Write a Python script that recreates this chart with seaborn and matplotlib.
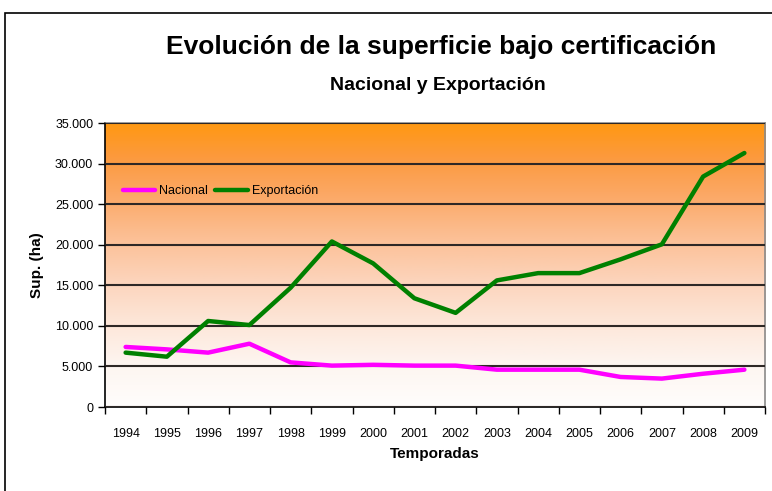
import numpy as np
import pandas as pd
import seaborn as sns
import matplotlib.pyplot as plt
from matplotlib.patches import Rectangle
from matplotlib.colors import LinearSegmentedColormap
from matplotlib.ticker import FuncFormatter, FixedLocator

# data
years = [str(y) for y in range(1994, 2010)]
nacional = [7400, 7100, 6700, 7800, 5500, 5100, 5200, 5100, 5100, 4600, 4600, 4600, 3700, 3500, 4100, 4600]
exportacion = [6700, 6200, 10600, 10100, 14700, 20400, 17700, 13400, 11600, 15600, 16500, 16500, 18200, 20050, 28400, 31300]

df = pd.DataFrame({"Temporada": years * 2,
                   "Sup": nacional + exportacion,
                   "Serie": ["Nacional"] * 16 + ["Exportación"] * 16})

sns.set_style("white")
plt.rcParams['font.family'] = ['Liberation Sans Narrow', 'Liberation Sans', 'DejaVu Sans']
plt.rcParams['text.color'] = 'black'
plt.rcParams['axes.labelcolor'] = 'black'
plt.rcParams['xtick.color'] = 'black'
plt.rcParams['ytick.color'] = 'black'

fig = plt.figure(figsize=(7.72, 4.91), dpi=100)
ax = fig.add_axes([105 / 772, 84 / 491, 660 / 772, 284 / 491])

# outer chart frame (cut by the image edge on right/bottom)
fig.patches.append(Rectangle((5 / 772, -0.1), 1.2, (491 - 13) / 491 + 0.1,
                             transform=fig.transFigure, fill=False,
                             edgecolor="black", linewidth=1.2, zorder=0))

# gradient background orange -> white
cmap = LinearSegmentedColormap.from_list("bg", [(0, "#fffdfc"), (0.15, "#fdf5f0"), (0.3, "#fde6d8"),
                                                (0.45, "#fcd3ba"), (0.6, "#fcbf94"), (0.75, "#fba865"),
                                                (0.88, "#fc9a3e"), (1, "#ff9812")])
grad = np.linspace(0, 1, 256).reshape(-1, 1)
ax.imshow(grad, cmap=cmap, aspect="auto", origin="lower",
          extent=[0, 1, 0, 1], transform=ax.transAxes, zorder=0)

sns.lineplot(data=df, x="Temporada", y="Sup", hue="Serie",
             palette={"Nacional": "#ff00ff", "Exportación": "#008000"},
             linewidth=3.2, ax=ax, zorder=3, sort=False)

ax.set_xlim(-0.5, 15.5)
ax.set_ylim(0, 35000)
ax.set_yticks(range(0, 35001, 5000))
ax.yaxis.set_major_formatter(FuncFormatter(lambda v, p: f"{int(v):,}".replace(",", ".")))
ax.grid(axis="y", color="#2e2826", linewidth=1.5, zorder=1)
ax.set_axisbelow(False)

ax.set_xticks(range(16))
ax.set_xticklabels(years)
ax.xaxis.set_minor_locator(FixedLocator(np.arange(-0.5, 16, 1)))
ax.tick_params(axis="x", which="major", length=0, pad=15, labelsize=9)
ax.tick_params(axis="x", which="minor", length=5, width=1, color="black", direction="out", bottom=True)
ax.tick_params(axis="y", length=5, width=1, color="black", direction="out", left=True, labelsize=9)

for s in ["top", "right"]:
    ax.spines[s].set_color("#8a8a8a")
    ax.spines[s].set_linewidth(1.2)
for s in ["left", "bottom"]:
    ax.spines[s].set_color("black")
    ax.spines[s].set_linewidth(1.2)

ax.set_xlabel("Temporadas", fontsize=11, fontweight="bold", labelpad=5)
ax.set_ylabel("Sup. (ha)", fontsize=11, fontweight="bold", labelpad=8)

leg = ax.legend(loc="upper left", bbox_to_anchor=(0.01, 0.82), ncol=2, frameon=False,
                fontsize=9, handlelength=2.6, columnspacing=0.6, handletextpad=0.3)
for line in leg.get_lines():
    line.set_linewidth(3.2)

fig.text(441 / 772, 1 - 47 / 491, "Evolución de la superficie bajo certificación", ha="center", va="center",
         fontsize=19, fontweight="bold")
fig.text(438 / 772, 1 - 86 / 491, "Nacional y Exportación", ha="center", va="center",
         fontsize=14, fontweight="bold")

fig.savefig("out.png", dpi=100)
